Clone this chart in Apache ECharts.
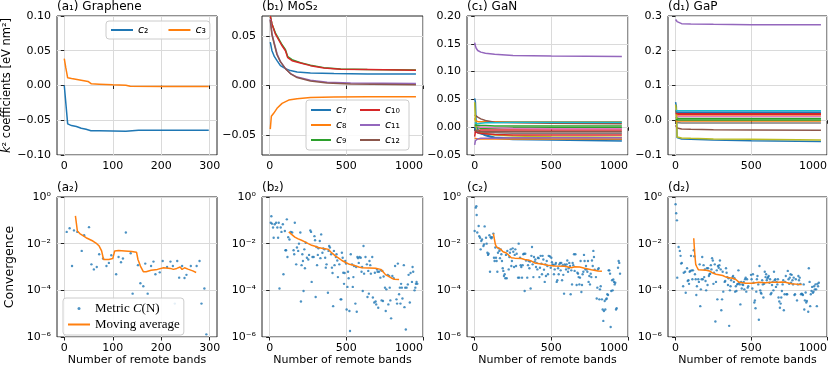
<!DOCTYPE html>
<html>
<head>
<meta charset="utf-8">
<script src="https://cdn.jsdelivr.net/npm/echarts@6/dist/echarts.min.js"></script>
<style>
  html, body { margin: 0; padding: 0; background: #fff; }
  #main { width: 830px; height: 367px; }
</style>
</head>
<body>
<div id="main"></div>
<script>
var FONT = 'DejaVu Sans'
var TAB10 = ['#1f77b4', '#ff7f0e', '#2ca02c', '#d62728', '#9467bd', '#8c564b', '#e377c2', '#7f7f7f', '#bcbd22', '#17becf']

/* (a1) graphene, k2 coefficients */
var grN2 = [0, 7, 15, 25, 35, 45, 55, 72, 100, 127, 130, 153, 207, 298]
var grC2 = [0, -0.0553, -0.0577, -0.059, -0.0615, -0.063, -0.065, -0.065, -0.0654, -0.0659, -0.0644, -0.0644, -0.0644, -0.0644]
var grN3 = [0, 3, 7, 15, 32, 49, 53, 56, 72, 100, 127, 136, 207, 298]
var grC3 = [0.0385, 0.026, 0.011, 0.010, 0.008, 0.0058, 0.0048, 0.0024, 0.0019, 0.001, 0.0005, -0.001, -0.0014, -0.0014]

/* (b1) MoS2 */
var moN7 = [4, 15, 31, 48, 70, 103, 135, 179, 266, 419, 637, 954]
var moC7 = [0.0437, 0.035, 0.029, 0.025, 0.020, 0.017, 0.015, 0.0137, 0.0127, 0.012, 0.0117, 0.0117]
var moN8 = [4, 11, 26, 48, 81, 124, 179, 266, 419, 637, 954]
var moC8 = [-0.044, -0.031, -0.028, -0.023, -0.018, -0.0147, -0.0133, -0.012, -0.0117, -0.0113, -0.0113]
var moN9 = [4, 15, 37, 59, 81, 103, 118, 146, 201, 266, 354, 463, 637, 954]
var moC9 = [0.070, 0.062, 0.053, 0.047, 0.041, 0.036, 0.029, 0.026, 0.023, 0.0205, 0.018, 0.0165, 0.016, 0.0155]
var moC10 = [0.070, 0.062, 0.052, 0.046, 0.040, 0.035, 0.028, 0.025, 0.0227, 0.020, 0.0177, 0.0163, 0.016, 0.0153]
var moN11 = [4, 15, 31, 48, 70, 103, 135, 179, 266, 375, 528, 954]
var moC11 = [0.067, 0.052, 0.042, 0.032, 0.024, 0.017, 0.012, 0.0085, 0.0052, 0.0033, 0.0025, 0.002]
var moC12 = [0.066, 0.051, 0.041, 0.031, 0.024, 0.017, 0.012, 0.008, 0.0045, 0.0025, 0.0015, 0.0008]

/* (c1) GaN, one row per coefficient, colours cycle tab10 */
var ganN = [0, 5, 10, 20, 40, 70, 130, 250, 500, 960]
var ganC = [
  [0.052, 0.045, 0.003, -0.004, -0.010, -0.015, -0.020, -0.022, -0.023, -0.025],
  [0.016, 0.012, 0.010, 0.010, 0.010, 0.010, 0.010, 0.010, 0.010, 0.010],
  [0.003, 0.002, 0.000, -0.001, -0.002, -0.002, -0.002, -0.001, -0.001, -0.001],
  [-0.017, -0.008, -0.007, -0.006, -0.005, -0.005, -0.005, -0.005, -0.005, -0.005],
  [0.152, 0.146, 0.142, 0.138, 0.135, 0.133, 0.131, 0.129, 0.128, 0.127],
  [0.022, 0.022, 0.020, 0.018, 0.015, 0.012, 0.009, 0.008, 0.007, 0.006],
  [0.005, 0.003, 0.002, 0.001, 0.0, 0.0, -0.001, -0.002, -0.003, -0.003],
  [-0.002, -0.004, -0.006, -0.008, -0.009, -0.010, -0.010, -0.011, -0.011, -0.011],
  [0.045, 0.012, -0.005, -0.008, -0.010, -0.012, -0.014, -0.016, -0.017, -0.018],
  [0.008, 0.006, 0.005, 0.006, 0.007, 0.008, 0.008, 0.009, 0.009, 0.009],
  [0.0, -0.005, -0.008, -0.010, -0.012, -0.014, -0.018, -0.020, -0.021, -0.022],
  [-0.020, -0.022, -0.021, -0.021, -0.021, -0.021, -0.021, -0.021, -0.021, -0.021],
  [0.004, 0.003, 0.003, 0.003, 0.003, 0.003, 0.002, 0.002, 0.002, 0.002],
  [-0.008, -0.009, -0.010, -0.010, -0.011, -0.012, -0.013, -0.014, -0.014, -0.014],
  [-0.032, -0.024, -0.022, -0.021, -0.020, -0.020, -0.020, -0.019, -0.019, -0.019],
  [-0.005, -0.006, -0.007, -0.007, -0.008, -0.008, -0.008, -0.008, -0.008, -0.008]
]

/* (d1) GaP */
var gapN = [0, 5, 10, 20, 40, 100, 250, 500, 960]
var gapC = [
  [0.052, 0.040, -0.050, -0.053, -0.054, -0.055, -0.057, -0.059, -0.061],
  [0.015, 0.015, 0.015, 0.015, 0.015, 0.015, 0.015, 0.015, 0.015],
  [0.008, 0.006, 0.005, 0.005, 0.005, 0.005, 0.005, 0.005, 0.005],
  [0.030, 0.022, 0.020, 0.019, 0.019, 0.019, 0.019, 0.019, 0.019],
  [0.290, 0.287, 0.284, 0.280, 0.278, 0.277, 0.276, 0.275, 0.2745],
  [-0.015, -0.019, -0.022, -0.024, -0.025, -0.026, -0.027, -0.028, -0.029],
  [0.010, 0.011, 0.011, 0.011, 0.011, 0.011, 0.011, 0.011, 0.011],
  [-0.006, -0.007, -0.007, -0.007, -0.008, -0.008, -0.008, -0.008, -0.008],
  [0.045, 0.030, -0.048, -0.050, -0.051, -0.052, -0.054, -0.055, -0.057],
  [0.028, 0.027, 0.027, 0.027, 0.027, 0.027, 0.027, 0.027, 0.027],
  [0.024, 0.023, 0.023, 0.023, 0.023, 0.023, 0.023, 0.023, 0.023],
  [-0.002, -0.002, -0.002, -0.002, -0.002, -0.002, -0.002, -0.002, -0.002],
  [0.002, 0.001, 0.001, 0.001, 0.001, 0.001, 0.001, 0.001, 0.001],
  [0.020, 0.018, 0.017, 0.017, 0.017, 0.017, 0.017, 0.017, 0.017]
]

/* (a2) graphene convergence */
var a2N = [5, 11, 20, 27, 16, 36, 41, 51, 56, 61, 67, 72, 80, 87, 92, 97, 107, 112, 117, 121,
  127, 137, 141, 152, 157, 163, 167, 172, 179, 184, 188, 197, 203, 212, 219, 224, 228, 233, 237, 243,
  248, 252, 261, 273, 279, 283, 289, 293]
var a2C = [3.2e-2, 4.6e-2, 3.7e-2, 3.2e-2, 1.1e-3, 4.9e-3, 2.3e-2, 5.1e-2, 1.3e-3, 7.9e-4, 1.0e-3, 3.5e-3, 2.3e-3, 1.1e-3, 1.5e-3, 3.2e-3, 4.9e-4, 2.7e-3, 1.6e-3, 2.3e-3,
  3.0e-2, 3.9e-3, 7.2e-5, 1.2e-3, 2.0e-4, 1.5e-4, 1.4e-3, 7.2e-5, 1.1e-3, 1.7e-3, 4.9e-4, 5.9e-4, 1.8e-3, 1.0e-3, 1.7e-3, 1.1e-3, 2.7e-5, 1.8e-3, 3.5e-4, 1.1e-3,
  3.4e-4, 4.6e-4, 1.1e-3, 1.1e-3, 1.8e-3, 2.7e-5, 1.2e-4, 1.3e-6]
var a2MN = [23, 27, 32, 45, 59, 67, 72, 77, 81, 92, 100, 104, 112, 125, 139, 149, 152, 157, 163, 169,
  179, 192, 205, 219, 225, 232, 239, 243, 248, 255, 259, 265, 272]
var a2M = [0.155, 0.035, 0.027, 0.018, 0.013, 0.010, 7.9e-3, 4.9e-3, 2.1e-3, 2.1e-3, 2.3e-3, 4.9e-3, 5.1e-3, 4.9e-3, 4.6e-3, 4.3e-3, 2.1e-3, 1.1e-3, 6.3e-4, 6.3e-4,
  7.2e-4, 7.9e-4, 9.3e-4, 8.7e-4, 7.9e-4, 8.7e-4, 1.0e-3, 7.8e-4, 9.3e-4, 8.1e-4, 8.7e-4, 6.8e-4, 5.8e-4]

/* (b2) MoS2 convergence */
var b2N = [7, 11, 15, 22, 26, 33, 42, 50, 55, 59,
  64, 72, 77, 86, 90, 99, 103, 107, 112, 116,
  121, 129, 138, 147, 156, 160, 164, 173, 178, 186,
  191, 200, 204, 208, 213, 217, 221, 226, 230, 235,
  243, 252, 257, 265, 270, 274, 279, 287, 292, 296,
  300, 305, 309, 314, 318, 327, 331, 336, 344, 349,
  357, 362, 366, 371, 380, 384, 388, 393, 401, 406,
  410, 414, 419, 423, 432, 436, 441, 445, 454, 463,
  467, 471, 476, 480, 485, 489, 493, 498, 502, 507,
  511, 515, 520, 524, 529, 537, 542, 546, 550, 559,
  564, 568, 572, 577, 581, 586, 594, 599, 603, 607,
  612, 616, 625, 634, 638, 643, 647, 651, 656, 660,
  669, 673, 682, 686, 691, 695, 700, 704, 708, 713,
  722, 726, 730, 735, 739, 743, 752, 757, 761, 770,
  774, 779, 783, 787, 792, 800, 809, 818, 827, 831,
  836, 844, 849, 853, 857, 862, 866, 875, 879, 884,
  888, 893, 901, 906, 914, 919, 928, 932, 936, 945,
  950, 954, 958, 963]
var b2C = [0.079, 0.15, 0.072, 0.049, 0.018, 0.068, 0.079, 0.049, 0.018, 0.079,
  1.2e-4, 0.049, 0.032, 0.068, 4.9e-4, 0.035, 5.2e-3, 5.2e-3, 0.11, 2.7e-3,
  0.019, 0.015, 0.032, 0.03, 5.2e-3, 3.5e-3, 0.079, 1.3e-3, 6.8e-3, 4.9e-3,
  0.01, 0.03, 3.3e-5, 1.2e-3, 3.5e-3, 1.8e-3, 9.4e-5, 5.7e-3, 8.8e-4, 0.011,
  2.5e-3, 2.1e-3, 3.3e-3, 0.037, 0.032, 2.3e-4, 2.7e-3, 2.7e-3, 0.021, 0.014,
  5.2e-5, 7.2e-3, 1.2e-3, 3.3e-3, 6.3e-3, 0.013, 2.4e-3, 0.025, 4.1e-3, 6.3e-3,
  5.7e-3, 2.5e-3, 9.4e-4, 1.3e-3, 7.9e-5, 4.9e-3, 7.9e-3, 6.8e-3, 3.5e-3, 9.4e-4,
  5.5e-4, 2.1e-5, 4.9e-3, 1.2e-3, 2.7e-3, 3.5e-3, 1.9e-3, 3.7e-4, 1.3e-3, 4.1e-5,
  4.1e-5, 4.1e-3, 2.5e-3, 5.7e-4, 1.9e-4, 5.5e-4, 1.8e-3, 1.4e-3, 1.5e-5, 1.4e-4,
  6.3e-4, 3.3e-4, 1.3e-5, 1.8e-6, 3.5e-3, 1.3e-3, 1.4e-4, 3.7e-4, 1.1e-3, 2.7e-5,
  1.0e-3, 1.2e-5, 2.7e-3, 2.4e-3, 1.5e-3, 2.7e-3, 2.5e-3, 6.3e-4, 1.0e-3, 9.4e-5,
  7.9e-3, 5.2e-4, 2.7e-3, 1.3e-3, 5.2e-5, 6.8e-4, 7.2e-5, 1.8e-3, 1.2e-3, 5.2e-4,
  2.7e-3, 4.9e-5, 3.0e-5, 5.7e-4, 3.3e-5, 2.5e-5, 7.9e-4, 6.3e-4, 1.8e-5, 6.3e-4,
  3.5e-4, 7.2e-4, 3.7e-5, 6.8e-4, 3.5e-5, 3.9e-4, 1.3e-4, 1.3e-5, 1.1e-4, 4.6e-4,
  2.5e-5, 4.1e-4, 1.3e-4, 3.7e-5, 6.3e-6, 4.1e-4, 3.3e-4, 1.1e-3, 4.1e-5, 2.7e-5,
  1.4e-3, 6.8e-5, 1.3e-4, 2.7e-5, 1.9e-4, 1.3e-4, 4.5e-5, 1.2e-3, 1.9e-5, 1.3e-4,
  2.1e-6, 1.3e-4, 1.8e-4, 4.6e-4, 3.0e-5, 5.5e-4, 2.3e-4, 1.0e-3, 6.3e-4, 1.0e-4,
  1.3e-4, 1.9e-4, 2.3e-4, 1.9e-4]
var b2MN = [125, 143, 164, 186, 208, 230, 252, 274, 296, 318, 340, 362, 384, 397, 410, 428, 450, 471, 493, 520,
  548, 581, 603, 647, 691, 724, 739, 757, 779, 796, 814, 844]
var b2M = [3.2e-2, 2.5e-2, 1.9e-2, 1.6e-2, 1.4e-2, 1.2e-2, 1.0e-2, 8.5e-3, 7.7e-3, 6.8e-3, 6.3e-3, 6.1e-3, 5.7e-3, 4.5e-3, 3.7e-3, 3.0e-3, 2.4e-3, 1.9e-3, 1.6e-3, 1.3e-3,
  1.2e-3, 1.0e-3, 9.3e-4, 9.1e-4, 8.8e-4, 7.9e-4, 6.3e-4, 4.6e-4, 3.9e-4, 3.3e-4, 3.0e-4, 2.9e-4]

/* (c2) GaN convergence */
var c2N = [0, 7, 11, 13, 17, 26, 30, 35, 39, 43,
  48, 57, 61, 65, 74, 78, 83, 87, 91, 96,
  100, 104, 109, 113, 122, 126, 130, 135, 139, 143,
  148, 152, 157, 161, 165, 170, 174, 178, 183, 187,
  191, 196, 200, 204, 209, 213, 222, 226, 230, 235,
  239, 243, 248, 252, 257, 261, 265, 270, 274, 283,
  287, 291, 296, 300, 304, 309, 313, 317, 322, 326,
  330, 335, 343, 348, 352, 357, 361, 365, 370, 374,
  378, 383, 387, 391, 396, 400, 404, 409, 413, 417,
  422, 426, 430, 435, 439, 443, 448, 452, 457, 461,
  465, 470, 474, 478, 483, 491, 496, 500, 504, 509,
  513, 517, 522, 526, 530, 535, 539, 544, 548, 552,
  557, 561, 565, 570, 574, 578, 583, 587, 591, 596,
  600, 604, 609, 613, 617, 622, 626, 630, 635, 639,
  643, 648, 652, 657, 665, 670, 674, 678, 683, 687,
  691, 696, 700, 704, 709, 713, 717, 722, 726, 730,
  735, 739, 743, 748, 752, 757, 761, 765, 770, 774,
  778, 783, 791, 796, 800, 804, 809, 813, 817, 822,
  830, 835, 839, 843, 848, 852, 857, 861, 865, 870,
  874, 878, 883, 887, 891, 896, 900, 904, 909, 913,
  917, 922, 926, 935, 939, 943, 948]
var c2C = [0.035, 0.35, 0.4, 0.17, 0.03, 0.057, 0.021, 0.018, 5.7e-3, 0.013,
  0.015, 7.9e-3, 9.3e-3, 0.055, 0.018, 0.01, 4.1e-3, 3.3e-3, 3.7e-3, 0.023,
  6.3e-4, 0.019, 0.017, 0.019, 0.027, 2.5e-3, 1.8e-3, 6.8e-3, 2.5e-3, 1.8e-3,
  6.3e-4, 4.1e-3, 6.3e-3, 4.9e-3, 2.4e-3, 5.7e-3, 3.5e-3, 1.8e-3, 8.8e-4, 6.8e-4,
  4.1e-4, 4.9e-4, 3.3e-4, 3.3e-3, 3.3e-4, 4.9e-3, 7.9e-4, 2.7e-3, 4.1e-3, 5.7e-3,
  1.1e-3, 1.8e-3, 6.3e-3, 4.5e-3, 1.0e-3, 3.3e-3, 5.7e-3, 1.1e-3, 3.7e-3, 3.5e-4,
  1.0e-2, 3.5e-4, 2.5e-3, 1.2e-3, 1.0e-3, 3.5e-4, 1.2e-3, 3.5e-3, 3.7e-3, 9.3e-5,
  3.7e-3, 1.9e-3, 3.5e-4, 1.2e-3, 1.8e-3, 8.8e-4, 1.7e-3, 1.2e-4, 3.0e-3, 7.2e-3,
  1.3e-3, 3.7e-4, 2.7e-3, 1.7e-3, 2.1e-3, 1.0e-3, 1.5e-3, 7.9e-4, 2.5e-3, 2.4e-3,
  3.7e-4, 9.3e-4, 3.0e-3, 1.4e-3, 4.9e-4, 3.0e-3, 2.1e-3, 7.7e-4, 2.3e-4, 1.3e-3,
  4.1e-4, 1.8e-3, 1.1e-3, 4.9e-4, 3.0e-3, 2.8e-3, 9.3e-4, 2.5e-3, 1.6e-3, 1.3e-3,
  1.2e-3, 4.9e-4, 7.9e-4, 1.3e-3, 1.5e-3, 2.3e-4, 2.7e-4, 8.8e-4, 4.9e-4, 1.3e-3,
  1.5e-3, 7.2e-4, 1.5e-3, 2.7e-4, 1.2e-3, 4.6e-4, 7.2e-5, 1.3e-3, 1.1e-3, 7.9e-4,
  1.3e-3, 1.9e-3, 6.3e-4, 8.8e-4, 1.5e-3, 1.1e-3, 6.8e-5, 7.2e-4, 1.8e-4, 1.5e-3,
  1.2e-3, 3.5e-3, 6.8e-4, 3.5e-3, 1.7e-4, 5.7e-4, 5.2e-4, 3.7e-4, 1.8e-4, 3.5e-4,
  1.8e-3, 8.5e-5, 1.7e-4, 4.9e-4, 6.3e-4, 3.3e-3, 1.8e-3, 7.9e-4, 1.1e-3, 7.9e-4,
  6.3e-4, 1.8e-3, 2.3e-4, 4.1e-4, 1.8e-4, 5.2e-4, 3.7e-4, 1.9e-3, 1.1e-3, 4.9e-3,
  2.7e-3, 7.7e-4, 3.7e-4, 4.5e-5, 1.3e-4, 7.9e-4, 8.8e-4, 4.1e-5, 1.1e-4, 1.5e-4,
  4.1e-5, 1.5e-5, 4.9e-6, 1.3e-5, 3.5e-5, 1.5e-5, 4.1e-5, 4.5e-5, 6.8e-5, 6.3e-5,
  7.2e-4, 7.2e-4, 5.2e-4, 2.7e-6, 9.3e-5, 2.7e-4, 1.0e-4, 2.9e-4, 2.3e-4, 1.8e-4,
  2.1e-4, 1.5e-5, 1.7e-5, 9.3e-4, 1.8e-3, 1.5e-3, 5.2e-4]
var c2MN = [122, 126, 135, 143, 152, 170, 185, 207, 217, 239, 261, 304, 326, 348, 370, 391, 435, 478, 522, 587,
  609, 630, 652, 685, 717, 761, 804, 830]
var c2M = [2.7e-2, 2.3e-2, 9.3e-3, 7.2e-3, 6.8e-3, 5.7e-3, 4.5e-3, 4.0e-3, 3.7e-3, 2.5e-3, 2.4e-3, 2.3e-3, 2.1e-3, 2.0e-3, 1.8e-3, 1.5e-3, 1.35e-3, 1.2e-3, 1.1e-3, 1.07e-3,
  1.0e-3, 9.3e-4, 1.03e-3, 1.0e-3, 8.8e-4, 7.7e-4, 6.8e-4, 6.5e-4]

/* (d2) GaP convergence */
var d2N = [0, 4, 9, 11, 20, 28, 33, 37, 41, 50,
  54, 63, 67, 76, 80, 85, 89, 93, 98, 102,
  107, 111, 115, 120, 124, 128, 133, 137, 141, 150,
  154, 159, 163, 167, 172, 176, 180, 185, 189, 193,
  198, 202, 207, 211, 215, 220, 224, 228, 233, 237,
  241, 246, 250, 254, 259, 263, 267, 272, 276, 280,
  285, 289, 293, 298, 302, 307, 311, 315, 324, 328,
  333, 337, 341, 346, 350, 354, 359, 363, 367, 376,
  380, 385, 389, 393, 398, 402, 407, 411, 415, 420,
  424, 428, 433, 437, 441, 446, 450, 454, 459, 463,
  467, 472, 476, 480, 498, 502, 507, 511, 515, 520,
  524, 528, 533, 537, 541, 546, 550, 554, 559, 563,
  567, 572, 576, 580, 585, 589, 594, 598, 602, 607,
  611, 615, 620, 624, 628, 633, 637, 641, 646, 650,
  654, 659, 663, 667, 672, 676, 680, 685, 689, 694,
  698, 702, 707, 711, 715, 720, 724, 728, 733, 737,
  741, 746, 750, 754, 759, 763, 767, 772, 776, 780,
  785, 789, 794, 802, 807, 811, 815, 820, 824, 828,
  833, 837, 841, 846, 850, 854, 859, 863, 867, 876,
  880, 885, 889, 893, 898, 902, 907, 911, 915, 920,
  924, 928, 933, 937, 941, 946]
var d2C = [0.49, 0.2, 0.1, 3.5e-4, 7.2e-3, 4.9e-3, 3.0e-3, 1.4e-3, 1.5e-3, 1.5e-4,
  5.7e-4, 6.3e-4, 7.9e-5, 8.8e-4, 2.5e-4, 2.7e-4, 1.9e-4, 6.3e-4, 6.8e-4, 3.0e-3,
  7.2e-4, 3.0e-4, 7.2e-4, 5.2e-3, 2.9e-3, 4.9e-4, 3.0e-4, 6.3e-5, 1.5e-4, 3.0e-4,
  2.3e-4, 1.3e-3, 2.1e-5, 1.1e-4, 3.0e-4, 2.7e-3, 3.0e-4, 1.2e-3, 3.7e-4, 7.9e-4,
  2.5e-4, 1.0e-4, 8.8e-4, 1.7e-4, 8.8e-4, 4.1e-4, 4.9e-4, 5.2e-4, 1.2e-3, 7.9e-4,
  2.4e-3, 1.9e-3, 1.9e-4, 5.7e-4, 1.3e-3, 4.6e-6, 2.3e-4, 7.2e-4, 4.1e-5, 1.1e-3,
  9.3e-4, 1.2e-3, 1.9e-3, 7.9e-4, 1.4e-5, 4.1e-5, 6.3e-4, 8.8e-5, 2.3e-4, 2.5e-4,
  8.8e-4, 5.7e-4, 3.7e-4, 1.7e-4, 3.3e-4, 3.0e-6, 1.0e-4, 1.5e-4, 2.7e-4, 3.7e-4,
  4.1e-4, 2.3e-4, 3.3e-4, 8.8e-5, 1.5e-4, 9.3e-5, 1.8e-4, 1.9e-4, 7.2e-4, 2.1e-4,
  1.8e-4, 2.5e-5, 2.3e-4, 1.2e-4, 1.8e-4, 1.7e-4, 2.3e-4, 1.1e-4, 3.0e-4, 3.5e-4,
  8.8e-5, 3.0e-4, 1.3e-4, 1.5e-4, 4.6e-4, 3.0e-4, 1.2e-4, 4.9e-4, 2.1e-4, 3.0e-5,
  3.7e-5, 1.7e-5, 8.8e-5, 3.0e-4, 4.1e-4, 1.8e-4, 5.5e-6, 1.1e-3, 1.0e-4, 7.9e-5,
  7.2e-5, 2.7e-4, 1.8e-4, 4.9e-5, 1.9e-4, 6.3e-4, 3.7e-4, 4.9e-4, 2.7e-4, 3.3e-4,
  3.7e-4, 4.1e-4, 2.1e-4, 3.0e-4, 6.8e-5, 7.7e-5, 1.7e-4, 2.3e-4, 1.0e-4, 6.3e-4,
  2.7e-4, 3.0e-4, 1.4e-4, 2.3e-4, 1.8e-4, 3.0e-4, 4.9e-5, 3.3e-5, 1.8e-5, 2.7e-5,
  4.9e-5, 9.3e-5, 1.8e-4, 2.7e-4, 1.4e-5, 6.8e-5, 2.3e-4, 4.1e-4, 6.8e-5, 6.8e-5,
  6.8e-4, 3.0e-4, 1.9e-4, 3.5e-4, 4.9e-4, 2.1e-4, 4.6e-4, 2.7e-4, 1.8e-4, 3.5e-4,
  6.3e-5, 6.8e-5, 3.0e-4, 3.7e-5, 1.8e-4, 4.1e-4, 2.7e-4, 3.5e-4, 1.9e-4, 6.8e-5,
  7.2e-5, 6.8e-5, 6.3e-5, 1.8e-4, 1.5e-5, 3.7e-5, 8.1e-5, 3.0e-5, 3.5e-5, 1.2e-5,
  8.8e-4, 2.3e-4, 2.1e-5, 6.8e-5, 9.3e-5, 1.4e-4, 7.9e-5, 8.8e-5, 1.5e-4, 1.1e-4,
  1.8e-4, 1.1e-4, 2.1e-5, 1.9e-4, 1.5e-4, 2.1e-4]
var d2MN = [120, 124, 128, 133, 141, 150, 159, 202, 224, 246, 267, 311, 333, 354, 376, 398, 420, 463, 507, 550,
  594, 637, 680, 702, 724, 767, 811, 833]
var d2M = [1.7e-2, 6.8e-3, 3.0e-3, 1.3e-3, 1.0e-3, 7.7e-4, 7.2e-4, 7.2e-4, 6.8e-4, 5.5e-4, 4.9e-4, 4.3e-4, 3.7e-4, 3.5e-4, 3.3e-4, 2.9e-4, 2.2e-4, 2.0e-4, 2.0e-4, 2.2e-4,
  2.1e-4, 2.2e-4, 2.2e-4, 2.3e-4, 2.2e-4, 1.9e-4, 1.8e-4, 1.8e-4]

/* ticks */
var ticksA = [0, 100, 200, 300]
var ticksN = [0, 500, 1000]
var ticksLog = [1e-6, 1e-4, 1e-2, 1]

var zip = function (xs, ys) {
  return xs.map(function (x, i) { return [x, ys[i]] })
}
var minus = function (s) { return s.replace('-', '\u2212') }
var supMap = { '-': '\u207b', '0': '\u2070', '1': '\u00b9', '2': '\u00b2', '3': '\u00b3', '4': '\u2074', '5': '\u2075', '6': '\u2076' }
var logLabel = function (v) {
  var e = String(Math.round(Math.log10(v)))
  return '10' + e.split('').map(function (c) { return supMap[c] }).join('')
}

var gridBox = [
  [57, 16, 160, 139], [262, 16, 161, 139], [467, 16, 161, 139], [668, 16, 161, 139],
  [57, 197, 160, 140], [262, 197, 161, 140], [467, 197, 161, 140], [668, 197, 161, 140]
]
var grids = gridBox.map(function (g) {
  return { left: g[0], top: g[1], width: g[2], height: g[3], show: true, borderColor: '#222', borderWidth: 1, backgroundColor: 'transparent' }
})

var splitLine = { show: true, lineStyle: { color: '#dadada', width: 1 } }
var labelStyle = { fontSize: 11, color: '#000', fontFamily: FONT, margin: 6 }

function xAxis (gi, min, max, ticks, name) {
  var ax = {
    type: 'value', gridIndex: gi, min: min, max: max,
    axisLine: { show: false },
    axisTick: { show: true, length: 3.5, lineStyle: { color: '#222' }, customValues: ticks },
    axisLabel: Object.assign({ customValues: ticks, alignMaxLabel: max > 900 ? 'right' : null, formatter: function (v) { return String(v) } }, labelStyle),
    splitLine: splitLine
  }
  if (name) {
    ax.name = name
    ax.nameLocation = 'middle'
    ax.nameGap = 18
    ax.nameTextStyle = { fontSize: 11, color: '#000', fontFamily: FONT }
  }
  return ax
}
function yAxis (gi, min, max, ticks, digits, name) {
  var ax = {
    type: 'value', gridIndex: gi, min: min, max: max,
    axisLine: { show: false },
    axisTick: { show: true, length: 3.5, lineStyle: { color: '#222' }, customValues: ticks },
    axisLabel: Object.assign({ customValues: ticks, formatter: function (v) { return minus(v.toFixed(digits)) } }, labelStyle),
    splitLine: splitLine
  }
  if (name) {
    ax.name = name
    ax.nameLocation = 'middle'
    ax.nameGap = 41
    ax.nameTextStyle = { fontSize: 11.5, color: '#000', fontFamily: FONT, rich: { i: { fontStyle: 'italic', fontSize: 11.5, fontFamily: FONT } } }
  }
  return ax
}
function logAxis (gi, name) {
  var ax = {
    type: 'log', logBase: 10, gridIndex: gi, min: 1e-6, max: 1,
    axisLine: { show: false },
    axisTick: { show: true, length: 3.5, lineStyle: { color: '#222' }, customValues: ticksLog },
    axisLabel: Object.assign({ customValues: ticksLog, formatter: logLabel }, labelStyle),
    minorTick: { show: false },
    splitLine: splitLine
  }
  if (name) {
    ax.name = name
    ax.nameLocation = 'middle'
    ax.nameGap = 41
    ax.nameTextStyle = { fontSize: 12.5, color: '#000', fontFamily: FONT }
  }
  return ax
}

function line (gi, xs, ys, color, name) {
  return {
    type: 'line', name: name, xAxisIndex: gi, yAxisIndex: gi, data: zip(xs, ys),
    symbol: 'none', showSymbol: false, animation: false, clip: true,
    lineStyle: { width: 1.5, color: color }, itemStyle: { color: color }
  }
}
function dots (gi, xs, ys, name) {
  return {
    type: 'scatter', name: name, xAxisIndex: gi, yAxisIndex: gi, data: zip(xs, ys),
    symbol: 'circle', symbolSize: 2.4, animation: false,
    itemStyle: { color: '#1f77b4' }
  }
}

var series = [
  line(0, grN2, grC2, TAB10[0], 'c\u2082'),
  line(0, grN3, grC3, TAB10[1], 'c\u2083'),
  line(1, moN7, moC7, TAB10[0], 'c\u2087'),
  line(1, moN8, moC8, TAB10[1], 'c\u2088'),
  line(1, moN9, moC9, TAB10[2], 'c\u2089'),
  line(1, moN9, moC10, TAB10[3], 'c\u2081\u2080'),
  line(1, moN11, moC11, TAB10[4], 'c\u2081\u2081'),
  line(1, moN11, moC12, TAB10[5], 'c\u2081\u2082')
]
ganC.forEach(function (ys, i) { series.push(line(2, ganN, ys, TAB10[i % 10], 'gan' + i)) })
gapC.forEach(function (ys, i) { series.push(line(3, gapN, ys, TAB10[i % 10], 'gap' + i)) })
series.push(dots(4, a2N, a2C, 'Metric C(N)'))
series.push(line(4, a2MN, a2M, TAB10[1], 'Moving average'))
series.push(dots(5, b2N, b2C, 'b2 metric'))
series.push(line(5, b2MN, b2M, TAB10[1], 'b2 average'))
series.push(dots(6, c2N, c2C, 'c2 metric'))
series.push(line(6, c2MN, c2M, TAB10[1], 'c2 average'))
series.push(dots(7, d2N, d2C, 'd2 metric'))
series.push(line(7, d2MN, d2M, TAB10[1], 'd2 average'))

function title (text, left, top) {
  return { text: text, left: left, top: top, padding: 0, textStyle: { fontSize: 12, fontWeight: 'normal', color: '#000', fontFamily: FONT } }
}

var legendBox = { backgroundColor: 'rgba(255,255,255,0.85)', borderColor: '#cccccc', borderWidth: 1, borderRadius: 3 }
var mathC = function (n) { return '{i|c}' + n.slice(1) }
var hideDot = { opacity: 0 }

var option = {
  animation: false,
  backgroundColor: '#fff',
  title: [
    title('(a\u2081) Graphene', 57, 1), title('(b\u2081) MoS\u2082', 262, 1),
    title('(c\u2081) GaN', 467, 1), title('(d\u2081) GaP', 668, 1),
    title('(a\u2082)', 57, 182), title('(b\u2082)', 262, 182),
    title('(c\u2082)', 467, 182), title('(d\u2082)', 668, 182)
  ],
  grid: grids,
  xAxis: [
    xAxis(0, -15, 315, ticksA), xAxis(1, -50, 1000, ticksN), xAxis(2, -50, 1000, ticksN), xAxis(3, -50, 1000, ticksN),
    xAxis(4, -15, 315, ticksA, 'Number of remote bands'), xAxis(5, -50, 1000, ticksN, 'Number of remote bands'),
    xAxis(6, -50, 1000, ticksN, 'Number of remote bands'), xAxis(7, -50, 1000, ticksN, 'Number of remote bands')
  ],
  yAxis: [
    yAxis(0, -0.1, 0.1, [-0.1, -0.05, 0, 0.05, 0.1], 2, '{i|k}\u00b2 coefficients [eV nm\u00b2]'),
    yAxis(1, -0.07, 0.07, [-0.05, 0, 0.05], 2),
    yAxis(2, -0.05, 0.2, [-0.05, 0, 0.05, 0.1, 0.15, 0.2], 2),
    yAxis(3, -0.1, 0.3, [-0.1, 0, 0.1, 0.2, 0.3], 1),
    logAxis(4, 'Convergence'), logAxis(5), logAxis(6), logAxis(7)
  ],
  legend: [
    Object.assign({
      left: 106, top: 21, orient: 'horizontal', data: ['c\u2082', 'c\u2083'],
      itemWidth: 22, itemHeight: 2, itemGap: 19, padding: [3, 4],
      itemStyle: hideDot,
      formatter: mathC,
      textStyle: { fontSize: 11, lineHeight: 12, color: '#000', fontFamily: FONT, rich: { i: { fontStyle: 'italic', fontSize: 11, fontFamily: FONT } } }
    }, legendBox),
    Object.assign({
      left: 306, top: 100, orient: 'vertical', height: 44,
      data: ['c\u2087', 'c\u2088', 'c\u2089', 'c\u2081\u2080', 'c\u2081\u2081', 'c\u2081\u2082'],
      itemWidth: 20, itemHeight: 2, itemGap: 3, padding: [4, 4],
      itemStyle: hideDot,
      formatter: mathC,
      textStyle: { width: 20, fontSize: 11, lineHeight: 12, color: '#000', fontFamily: FONT, rich: { i: { fontStyle: 'italic', fontSize: 11, fontFamily: FONT } } }
    }, legendBox),
    Object.assign({
      left: 63, top: 298, orient: 'vertical',
      data: [{ name: 'Metric C(N)' }, { name: 'Moving average', itemStyle: hideDot }],
      itemWidth: 22, itemHeight: 3, itemGap: 3, padding: [4, 4],
      formatter: function (n) { return n === 'Metric C(N)' ? 'Metric {i|C}(N)' : n },
      textStyle: { fontSize: 13, lineHeight: 12, color: '#000', fontFamily: 'Liberation Serif', rich: { i: { fontStyle: 'italic', fontSize: 13, fontFamily: 'Liberation Serif' } } }
    }, legendBox)
  ],
  series: series
}

var myChart = echarts.init(document.getElementById('main'), null, { renderer: 'canvas' })
myChart.setOption(option)
</script>
</body>
</html>
